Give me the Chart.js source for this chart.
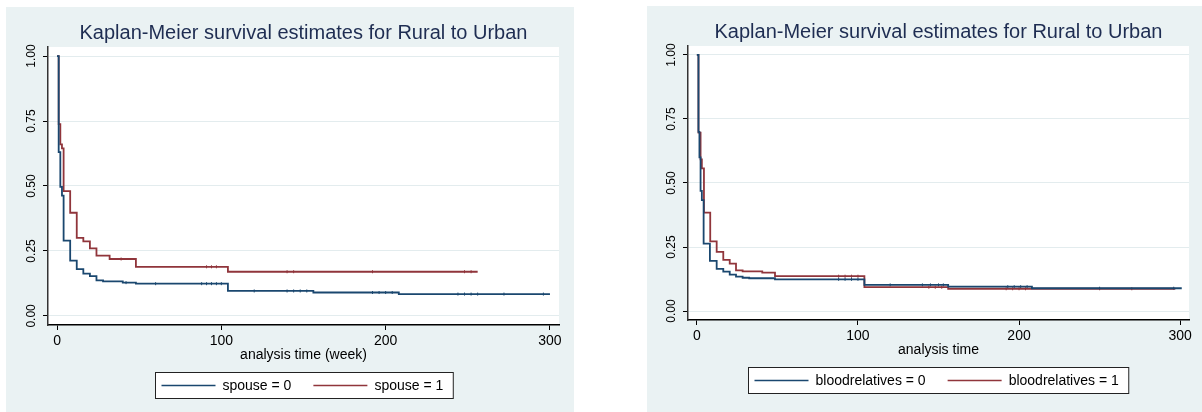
<!DOCTYPE html>
<html>
<head>
<meta charset="utf-8">
<script src="https://cdn.jsdelivr.net/npm/chart.js@4.4.0/dist/chart.umd.min.js"></script>
<style>
  body { margin: 0; background: #fff; width: 1202px; height: 412px; overflow: hidden; position: relative; }
  .panel { position: absolute; background: #eaf2f3; }
  canvas { position: absolute; }
</style>
</head>
<body>
<div class="panel" style="left:6px;top:7px;width:568px;height:405px"></div>
<div class="panel" style="left:647px;top:6px;width:555px;height:406px"></div>
<canvas id="km-spouse" width="595" height="405" style="left:6px;top:7px"></canvas>
<canvas id="km-blood" width="585" height="406" style="left:646px;top:6px"></canvas>
<script>
const chartTitle = "Kaplan-Meier survival estimates for Rural to Urban";
const timeTicks = [0, 100, 200, 300];
const survTicks = [0, 0.25, 0.5, 0.75, 1];

// left chart: spouse
const spouse0Time = [0, 1, 2, 3, 4, 8, 12, 16, 20, 24, 28, 40, 48, 104, 156, 208, 300];
const spouse0Surv = [1, 0.63, 0.497, 0.463, 0.29, 0.213, 0.18, 0.163, 0.153, 0.137, 0.133, 0.128, 0.124, 0.096, 0.09, 0.084, 0.084];
const spouse0Censor = [42, 60, 88, 91, 94, 97, 100, 120, 140, 144, 148, 152, 192, 196, 200, 204, 244, 248, 252, 256, 272, 296];
const spouse1Time = [0, 1, 2, 3, 4, 8, 12, 16, 20, 24, 32, 48, 104, 256];
const spouse1Surv = [1, 0.738, 0.66, 0.645, 0.48, 0.397, 0.30, 0.287, 0.26, 0.232, 0.219, 0.189, 0.17, 0.17];
const spouse1Censor = [39, 91, 94, 97, 140, 144, 192, 248, 252];

// right chart: bloodrelatives
const blood0Time = [0, 1, 1.6, 2.3, 3.1, 4.2, 8.1, 12.3, 16.4, 20.4, 24.3, 28.4, 32.5, 48.5, 104, 156, 208, 301];
const blood0Surv = [1, 0.70, 0.60, 0.469, 0.433, 0.263, 0.196, 0.165, 0.154, 0.142, 0.134, 0.13, 0.128, 0.124, 0.102, 0.095, 0.089, 0.089];
const blood0Censor = [88, 92, 96, 100, 120, 140, 145, 150, 153, 193, 197, 201, 205, 250, 296];
const blood1Time = [0, 1, 2.3, 3.1, 4.4, 8.3, 12.3, 16.4, 20.4, 24.3, 28.4, 40.6, 48.5, 104, 156, 297];
const blood1Surv = [1, 0.697, 0.592, 0.557, 0.384, 0.272, 0.231, 0.2, 0.185, 0.159, 0.155, 0.15, 0.136, 0.093, 0.087, 0.087];
const blood1Censor = [88, 92, 96, 100, 144, 148, 152, 192, 196, 200, 204, 250, 270];

const NAVY = "#1a476f";
const MAROON = "#90353b";
const FONT = "'Liberation Sans', Arial, Helvetica, sans-serif";
Chart.defaults.font.family = FONT;

function survAt(times, surv, t) {
  let s = surv[0];
  for (let i = 0; i < times.length; i++) {
    if (times[i] <= t) s = surv[i];
  }
  return s;
}

function curve(label, times, surv, color) {
  return {
    label,
    data: times.map((t, i) => ({ x: t, y: surv[i] })),
    borderColor: color,
    backgroundColor: color,
    borderWidth: 1.8,
    stepped: "before",
    pointRadius: 0,
    fill: false
  };
}

// small vertical ticks where observations were censored
function censorMarks(times, surv, censor, color) {
  return {
    isCensor: true,
    data: censor.map(t => ({ x: t, y: survAt(times, surv, t) })),
    showLine: false,
    pointStyle: "line",
    pointRotation: 90,
    pointRadius: 1.5,
    pointBorderColor: color,
    pointBorderWidth: 1
  };
}

const plotBackground = {
  id: "plotBackground",
  beforeDraw(chart) {
    const { ctx, chartArea: a } = chart;
    ctx.save();
    ctx.fillStyle = "#fff";
    ctx.fillRect(a.left, a.top, a.width, a.height);
    ctx.restore();
  }
};

// Stata writes the y labels turned on their side
const verticalYLabels = {
  id: "verticalYLabels",
  afterDraw(chart) {
    const { ctx, chartArea, scales: { y } } = chart;
    ctx.save();
    ctx.font = "12px " + FONT;
    ctx.fillStyle = "#000";
    ctx.textAlign = "center";
    ctx.textBaseline = "middle";
    y.ticks.forEach(t => {
      ctx.save();
      ctx.translate(chartArea.left - 16, y.getPixelForValue(t.value));
      ctx.rotate(-Math.PI / 2);
      ctx.fillText(t.value.toFixed(2), 0, 0);
      ctx.restore();
    });
    ctx.restore();
  }
};

const boxedLegend = {
  id: "boxedLegend",
  afterDraw(chart, args, opts) {
    const { ctx, chartArea } = chart;
    const items = chart.data.datasets.filter(d => !d.isCensor);
    const lineLen = 54, gap = 7, itemGap = 22, padL = 6, padR = 10, h = 26;
    ctx.save();
    ctx.font = "14px " + FONT;
    const widths = items.map(d => lineLen + gap + ctx.measureText(d.label).width);
    const w = padL + padR + widths.reduce((a, b) => a + b, 0) + itemGap * (items.length - 1);
    const cx = (chartArea.left + chartArea.right) / 2;
    const cy = chartArea.bottom + opts.offset;
    const left = Math.round(cx - w / 2) + 0.5;
    const top = Math.round(cy - h / 2) + 0.5;
    ctx.fillStyle = "#fff";
    ctx.fillRect(left, top, w, h);
    ctx.strokeStyle = "#222";
    ctx.lineWidth = 1;
    ctx.strokeRect(left, top, w, h);
    let cur = left + padL;
    items.forEach((d, i) => {
      ctx.strokeStyle = d.borderColor;
      ctx.lineWidth = 1.5;
      ctx.beginPath();
      ctx.moveTo(cur, Math.round(cy) + 0.5);
      ctx.lineTo(cur + lineLen, Math.round(cy) + 0.5);
      ctx.stroke();
      ctx.fillStyle = "#000";
      ctx.textAlign = "left";
      ctx.textBaseline = "middle";
      ctx.fillText(d.label, cur + lineLen + gap, cy + 1);
      cur += widths[i] + itemGap;
    });
    ctx.restore();
  }
};

function drawKM(canvasId, datasets, xTitle, bottomPad) {
  return new Chart(document.getElementById(canvasId), {
    type: "line",
    data: { datasets },
    options: {
      responsive: false,
      animation: false,
      events: [],
      layout: { padding: { left: 42, right: 42, top: 0, bottom: bottomPad } },
      plugins: {
        legend: { display: false },
        tooltip: { enabled: false },
        title: {
          display: true,
          text: chartTitle,
          color: "#1e2d52",
          font: { size: 20, weight: "normal" },
          padding: { top: 14, bottom: 2 }
        },
        boxedLegend: { offset: 60 }
      },
      scales: {
        x: {
          type: "linear",
          min: -5.5,
          max: 305.5,
          afterBuildTicks: s => { s.ticks = timeTicks.map(v => ({ value: v })); },
          afterFit: s => { s.height = 39; },
          grid: { drawOnChartArea: false, tickLength: 5, tickColor: "#000" },
          border: { color: "#000", width: 1.5 },
          ticks: { color: "#000", font: { size: 14 }, padding: 3, maxRotation: 0 },
          title: { display: true, text: xTitle, color: "#000", font: { size: 14 }, padding: 0 }
        },
        y: {
          type: "linear",
          min: -0.035,
          max: 1.035,
          afterBuildTicks: s => { s.ticks = survTicks.map(v => ({ value: v })); },
          afterFit: s => { s.width = 0; },
          grid: { color: "#e3ecee", lineWidth: 1, tickLength: 5, tickColor: "#000" },
          border: { color: "#333", width: 1.5 },
          ticks: { display: false }
        }
      }
    },
    plugins: [plotBackground, verticalYLabels, boxedLegend]
  });
}

drawKM("km-spouse", [
  curve("spouse = 0", spouse0Time, spouse0Surv, NAVY),
  curve("spouse = 1", spouse1Time, spouse1Surv, MAROON),
  censorMarks(spouse0Time, spouse0Surv, spouse0Censor, NAVY),
  censorMarks(spouse1Time, spouse1Surv, spouse1Censor, MAROON)
], "analysis time (week)", 48);

drawKM("km-blood", [
  curve("bloodrelatives = 0", blood0Time, blood0Surv, NAVY),
  curve("bloodrelatives = 1", blood1Time, blood1Surv, MAROON),
  censorMarks(blood0Time, blood0Surv, blood0Censor, NAVY),
  censorMarks(blood1Time, blood1Surv, blood1Censor, MAROON)
], "analysis time", 53);
</script>
</body>
</html>
